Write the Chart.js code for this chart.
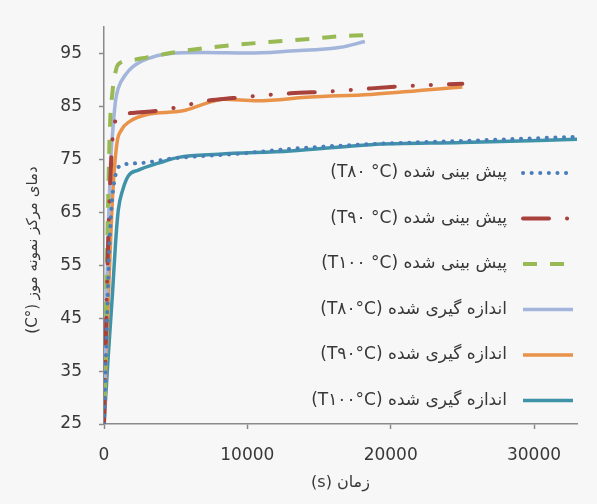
<!DOCTYPE html>
<html>
<head>
<meta charset="utf-8">
<script src="https://cdn.jsdelivr.net/npm/chart.js@4.4.1/dist/chart.umd.min.js"></script>
<style>
  html, body { margin: 0; padding: 0; background: #f7f7f7; }
  #wrap { width: 597px; height: 504px; }
</style>
</head>
<body>
<div id="wrap"><canvas id="tempChart" width="597" height="504" dir="rtl"></canvas></div>
<script>
// time (s) / core temperature (°C)
const pred80Time = [0, 400, 800, 1300, 2500, 4800, 9500, 13000, 18600, 25000, 33000];
const pred80Temp = [25, 60, 72, 74, 74.3, 75.2, 76.1, 77, 77.9, 78.5, 79.3];

const pred90Time = [0, 300, 600, 1000, 2000, 4000, 5500, 7000, 9000, 11000, 13000, 16000, 18000, 20000, 22000, 25000];
const pred90Temp = [25, 60, 79, 83, 83.8, 84.3, 85.1, 86, 86.6, 87.1, 87.5, 87.9, 88.3, 88.7, 89, 89.3];

const pred100Time = [0, 200, 400, 600, 800, 1000, 2000, 3000, 5000, 7500, 11500, 14500, 16000, 18200];
const pred100Temp = [25, 55, 80, 88, 91.5, 93, 93.8, 94.3, 95.3, 96.2, 97.2, 97.8, 98.2, 98.5];

const meas80Time = [0, 150, 300, 450, 600, 800, 1000, 1500, 2000, 3000, 4500, 7000, 10000, 13000, 16500, 18200];
const meas80Temp = [25, 45, 62, 74, 80, 86, 88.5, 91, 92.5, 94, 95, 95.2, 95.1, 95.5, 96.2, 97.3];

const meas90Time = [0, 350, 600, 900, 1200, 1800, 3000, 5500, 7000, 8300, 10700, 14400, 18600, 25000];
const meas90Temp = [25, 52, 68, 78, 80.5, 82.2, 83.5, 84.2, 85.5, 86.4, 86.1, 86.8, 87.3, 88.7];

const meas100Time = [0, 300, 600, 800, 1000, 1300, 1700, 2400, 3800, 5200, 8000, 13000, 18600, 25000, 33000];
const meas100Temp = [25, 38, 50, 59, 65.5, 69.2, 71.9, 73, 74.3, 75.4, 76, 76.6, 77.8, 78.2, 78.8];

const seriesLabels = [
  'پیش بینی شده (T۸۰ °C)',
  'پیش بینی شده (T۹۰ °C)',
  'پیش بینی شده (T۱۰۰ °C)',
  'اندازه گیری شده (T۸۰°C)',
  'اندازه گیری شده (T۹۰°C)',
  'اندازه گیری شده (T۱۰۰°C)'
];

const xTicks = [0, 10000, 20000, 30000];
const yTicks = [25, 35, 45, 55, 65, 75, 85, 95];
const xTitle = 'زمان (s)';
const yTitle = 'دمای مرکز نمونه موز (°C)';

const toPoints = (xs, ys) => xs.map((x, i) => ({ x: x, y: ys[i] }));

const FONT = '"DejaVu Sans", sans-serif';
const TEXT = '#383838';
const AXIS = '#8a8a8a';

// predicted series first so they sit on top of the measured ones
const datasets = [
  {
    label: seriesLabels[0],
    data: toPoints(pred80Time, pred80Temp),
    borderColor: '#4a7ebb',
    borderWidth: 4,
    borderDash: [0.1, 8.5],
    borderCapStyle: 'round',
  },
  {
    label: seriesLabels[1],
    data: toPoints(pred90Time, pred90Temp),
    borderColor: '#a8403b',
    borderWidth: 4,
    borderDash: [26, 18, 0.1, 18, 0.1, 18],
    borderCapStyle: 'round',
  },
  {
    label: seriesLabels[2],
    data: toPoints(pred100Time, pred100Temp),
    borderColor: '#98b954',
    borderWidth: 4,
    borderDash: [14, 13],
  },
  {
    label: seriesLabels[3],
    data: toPoints(meas80Time, meas80Temp),
    borderColor: '#a3b5da',
    borderWidth: 3.5,
  },
  {
    label: seriesLabels[4],
    data: toPoints(meas90Time, meas90Temp),
    borderColor: '#e8924a',
    borderWidth: 3.5,
  },
  {
    label: seriesLabels[5],
    data: toPoints(meas100Time, meas100Temp),
    borderColor: '#3f93a8',
    borderWidth: 3.5,
  },
];

const insideLegend = {
  id: 'insideLegend',
  afterDraw(chart) {
    const ctx = chart.ctx;
    ctx.save();
    ctx.font = '17px ' + FONT;
    ctx.direction = 'rtl';
    ctx.textAlign = 'right';
    ctx.textBaseline = 'middle';
    chart.data.datasets.forEach((ds, row) => {
      const y = 173 + row * 45.5;
      ctx.beginPath();
      ctx.strokeStyle = ds.borderColor;
      ctx.lineWidth = ds.borderWidth;
      ctx.lineCap = ds.borderCapStyle || 'butt';
      ctx.setLineDash(ds.borderDash || []);
      ctx.moveTo(523, y);
      ctx.lineTo(573, y);
      ctx.stroke();
      ctx.setLineDash([]);
      ctx.fillStyle = TEXT;
      ctx.fillText(ds.label, 507, y);
    });
    ctx.restore();
  }
};

const sideTitle = {
  id: 'sideTitle',
  afterDraw(chart) {
    const ctx = chart.ctx;
    ctx.save();
    ctx.translate(33, 250);
    ctx.rotate(-Math.PI / 2);
    ctx.font = '15px ' + FONT;
    ctx.direction = 'rtl';
    ctx.textAlign = 'center';
    ctx.textBaseline = 'middle';
    ctx.fillStyle = TEXT;
    ctx.fillText(yTitle, 0, 0);
    ctx.restore();
  }
};

const ctx = document.getElementById('tempChart').getContext('2d');
window.tempChart = new Chart(ctx, {
  type: 'line',
  data: { datasets: datasets },
  options: {
    responsive: false,
    animation: false,
    layout: { padding: { top: 24, right: 20, left: 0, bottom: 0 } },
    elements: {
      point: { radius: 0, hoverRadius: 0 },
      line: { cubicInterpolationMode: 'monotone', fill: false },
    },
    plugins: {
      legend: { display: false },
      tooltip: { enabled: false },
    },
    scales: {
      x: {
        type: 'linear',
        min: 0,
        max: 33000,
        afterBuildTicks: (scale) => { scale.ticks = xTicks.map((v) => ({ value: v })); },
        afterFit: (scale) => { scale.height = 80; },
        grid: { drawOnChartArea: false, tickLength: 5, tickColor: AXIS, tickWidth: 1.5 },
        border: { color: AXIS, width: 1.5 },
        ticks: {
          color: TEXT,
          padding: 16,
          maxRotation: 0,
          font: { family: FONT, size: 17 },
          callback: (v) => String(v),
        },
        title: {
          display: true,
          text: xTitle,
          color: TEXT,
          font: { family: FONT, size: 16 },
          padding: { top: 0, bottom: 12 },
        },
      },
      y: {
        type: 'linear',
        min: 25,
        max: 100,
        afterBuildTicks: (scale) => { scale.ticks = yTicks.map((v) => ({ value: v })); },
        afterFit: (scale) => { scale.width = 104; },
        grid: { drawOnChartArea: false, tickLength: 5, tickColor: AXIS, tickWidth: 1.5 },
        border: { color: AXIS, width: 1.5 },
        ticks: {
          color: TEXT,
          padding: 17,
          font: { family: FONT, size: 17 },
          callback: (v) => String(v),
        },
      },
    },
  },
  plugins: [insideLegend, sideTitle],
});
</script>
</body>
</html>
